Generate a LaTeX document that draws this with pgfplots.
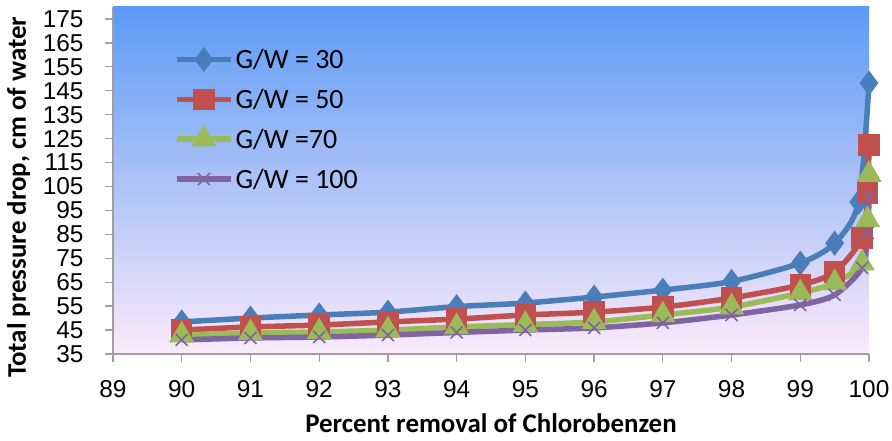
\documentclass[border=0pt]{standalone}
\usepackage{fontspec}
\setmainfont{Carlito}
\newfontfamily\arial{Liberation Sans}
\usepackage{pgfplots}
\pgfplotsset{compat=1.18}

\definecolor{gwA}{RGB}{74,126,187}
\definecolor{gwB}{RGB}{192,80,77}
\definecolor{gwC}{RGB}{155,187,89}
\definecolor{gwD}{RGB}{128,100,162}
\definecolor{bgTop}{RGB}{92,154,245}
\definecolor{bgMid}{RGB}{125,182,250}
\definecolor{bgBot}{RGB}{251,234,250}

\begin{document}
\begin{tikzpicture}
\useasboundingbox (0,0) rectangle (892bp,441bp);
\begin{axis}[
  at={(113bp,87bp)}, anchor=south west,
  scale only axis, width=756bp, height=347bp,
  xmin=89, xmax=100, ymin=35, ymax=180,
  xtick={89,...,100}, ytick={35,45,...,175},
  axis x line*=bottom, axis y line*=left,
  axis line style={draw=gray!75, line width=1.3bp},
  tick style={draw=gray!75, line width=1.3bp},
  tick align=outside, major tick length=8bp,
  axis background/.style={top color=bgTop, middle color=bgMid, bottom color=bgBot},
  /pgf/number format/assume math mode=true,
  ticklabel style={font=\arial\fontsize{24.5}{24.5}\selectfont},
  yticklabel style={xshift=-18bp},
  xticklabel style={yshift=-15bp},
  xlabel={Percent removal of Chlorobenzen},
  ylabel={Total pressure drop, cm of water},
  label style={font=\bfseries\fontsize{27}{27}\selectfont},
  xlabel style={at={(axis description cs:0.5,-0.199)}, anchor=center},
  ylabel style={at={(axis description cs:-0.125,0.452)}, anchor=center, rotate=0},
  legend style={draw=none, fill=none, at={(axis description cs:0.0805,0.885)}, anchor=north west,
    font=\fontsize{28}{28}\selectfont, row sep=15bp, inner sep=0pt},
  legend cell align=left,
  legend image code/.code={\draw[#1, mark repeat=2, mark phase=2] plot coordinates {(0bp,0bp) (27bp,0bp) (54bp,0bp)};},
  every axis plot/.append style={line width=5.5bp, smooth, tension=0.45},
  clip=false,
]
\addplot[color=gwA, mark=diamond*, mark size=8bp, mark options={draw=none, fill=gwA}] coordinates {
  (90,48.4) (91,50.0) (92,51.3) (93,52.5) (94,54.8) (95,56.3) (96,58.8)
  (97,61.7) (98,65.3) (99,73.0) (99.5,81.3) (99.85,98.5) (100,148.2)};
\addlegendentry{G/W = 30}
\addplot[color=gwB, mark=square*, mark size=8bp, mark options={draw=none, fill=gwB}] coordinates {
  (90,45.0) (91,46.3) (92,47.1) (93,48.4) (94,49.6) (95,51.3) (96,52.5)
  (97,54.6) (98,58.4) (99,63.8) (99.5,69.3) (99.9,83.5) (99.98,102.3) (100,122.3)};
\addlegendentry{G/W = 50}
\addplot[color=gwC, mark=triangle*, mark size=9bp, mark options={draw=none, fill=gwC}] coordinates {
  (90,42.9) (91,43.8) (92,44.2) (93,45.0) (94,46.3) (95,47.3) (96,48.4)
  (97,51.3) (98,54.6) (99,60.5) (99.5,64.7) (99.9,73.0) (99.98,91.0) (100,110.0)};
\addlegendentry{G/W =70}
\addplot[color=gwD, mark=x, mark size=8.5bp, mark options={line width=1.6bp}] coordinates {
  (90,40.9) (91,41.7) (92,42.1) (93,42.9) (94,44.0) (95,45.0) (96,45.9)
  (97,48.0) (98,51.3) (99,55.5) (99.5,59.7) (99.9,71.0) (99.98,85.6) (100,100.6)};
\addlegendentry{G/W = 100}
\end{axis}
\end{tikzpicture}
\end{document}
